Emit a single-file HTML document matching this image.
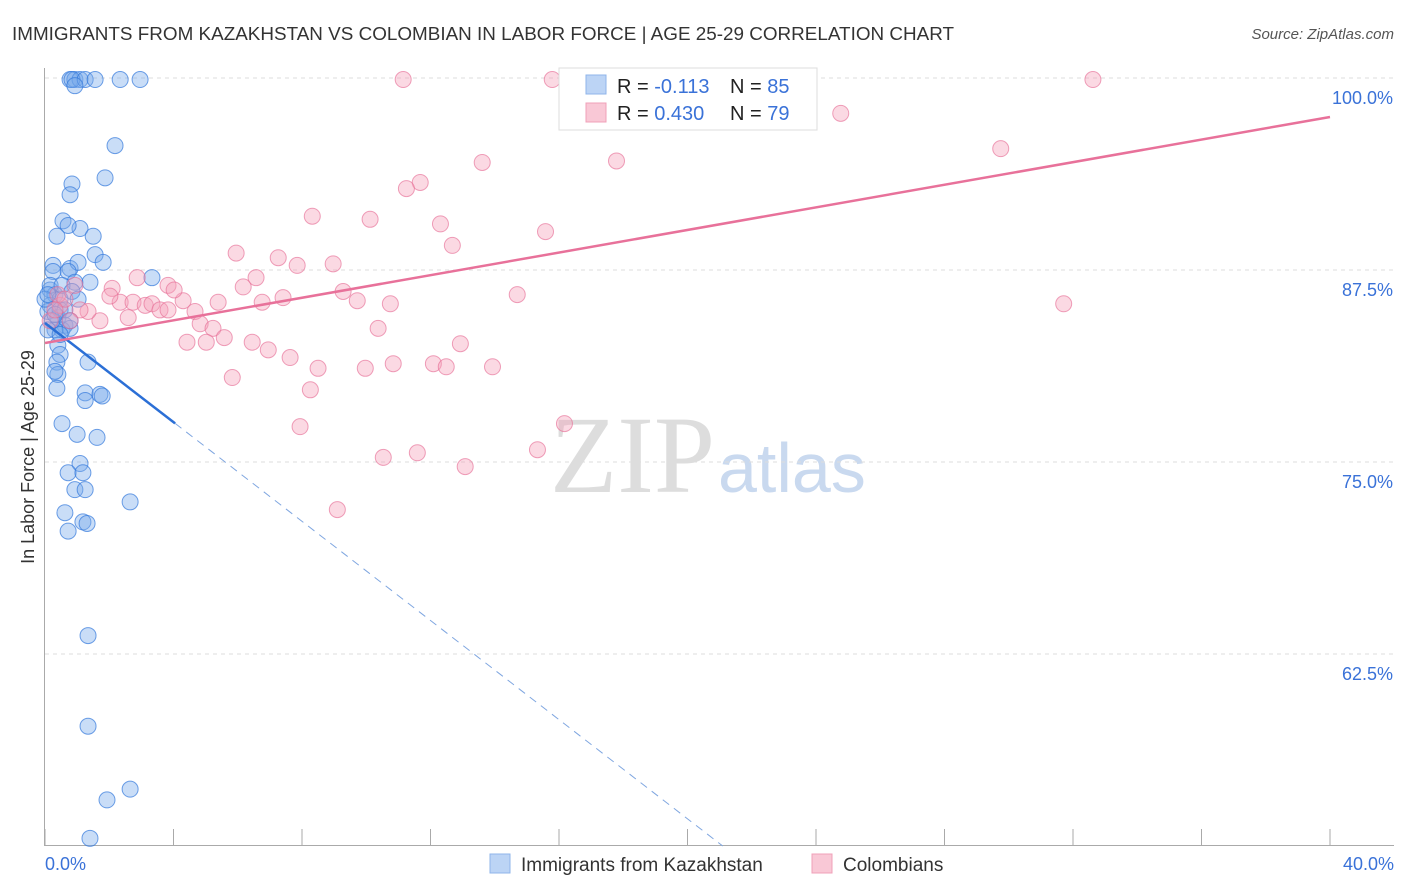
<!DOCTYPE html>
<html><head><meta charset="utf-8">
<style>
body{margin:0;background:#fff;font-family:"Liberation Sans",sans-serif;}
svg{display:block}
</style></head>
<body>
<svg id="chart" width="1406" height="892">
<text x="12" y="40" font-size="18" fill="#333" textLength="942" lengthAdjust="spacingAndGlyphs">IMMIGRANTS FROM KAZAKHSTAN VS COLOMBIAN IN LABOR FORCE | AGE 25-29 CORRELATION CHART</text>
<text x="1394" y="39" font-size="15" fill="#555" font-style="italic" text-anchor="end">Source: ZipAtlas.com</text>
<text x="715" y="492" font-size="110" fill="#ddd" text-anchor="end" font-family="Liberation Serif,serif">ZIP</text>
<text x="718" y="492" font-size="70" fill="#c9d9ef">atlas</text>
<g id="grid"></g>
<g id="axes"></g>
<g id="pts"></g>
<g id="trends"></g>
<text transform="translate(34,457) rotate(-90)" font-size="18" fill="#333" text-anchor="middle">In Labor Force | Age 25-29</text>
<g>
<rect x="559" y="68" width="258" height="62" fill="#fff" stroke="#ddd"/>
<rect x="586" y="75" width="20" height="19" fill="#bcd4f5" stroke="#8fb4ea"/>
<rect x="586" y="103" width="20" height="19" fill="#f9c8d6" stroke="#f0a0b8"/>
<text x="617" y="93" font-size="20" fill="#222">R = <tspan fill="#3a72d8">-0.113</tspan></text>
<text x="730" y="93" font-size="20" fill="#222">N = <tspan fill="#3a72d8">85</tspan></text>
<text x="617" y="120" font-size="20" fill="#222">R = <tspan fill="#3a72d8">0.430</tspan></text>
<text x="730" y="120" font-size="20" fill="#222">N = <tspan fill="#3a72d8">79</tspan></text>
</g>
<g>
<rect x="490" y="854" width="20" height="19" fill="#bcd4f5" stroke="#8fb4ea"/>
<text x="521" y="871" font-size="19" fill="#333">Immigrants from Kazakhstan</text>
<rect x="812" y="854" width="20" height="19" fill="#f9c8d6" stroke="#f0a0b8"/>
<text x="843" y="871" font-size="19" fill="#333">Colombians</text>
</g>
</svg>
<script>
const yTicks=[100,87.5,75,62.5];
const yTickLabels=["100.0%","87.5%","75.0%","62.5%"];
const xLabels=["0.0%","40.0%"];
const blueX=[0.78,0.93,1.09,0.84,1.25,1.56,2.34,2.96,0.93,2.18,1.87,0.84,0.78,0.56,1.09,0.72,0.37,1.50,1.56,0.25,0.78,1.81,1.03,0.72,3.33,1.40,0.93,0.25,0.16,0.31,0.47,0.16,0.09,0.40,0.62,0.53,0.78,0.31,0.40,0.47,1.34,0.37,0.40,0.31,0.37,1.25,1.71,1.78,1.25,0.53,1.00,1.62,1.09,0.72,1.18,0.93,1.25,2.65,0.62,1.18,1.31,0.72,1.34,1.34,1.93,2.65,1.40,0.16,0.47,0.22,0.0,0.09,0.62,0.78,0.31,0.53,0.84,1.03,0.09,0.47];
const blueY=[99.9,99.9,99.9,99.9,99.9,99.9,99.9,99.9,99.5,95.6,93.5,93.1,92.4,90.7,90.2,90.4,89.7,89.7,88.5,87.8,87.6,88.0,88.0,87.4,87.0,86.7,86.7,87.4,86.2,85.9,85.6,85.2,84.8,84.4,83.9,83.6,83.7,83.6,82.6,82.0,81.5,81.5,80.7,80.9,79.8,79.5,79.4,79.3,79.0,77.5,76.8,76.6,74.9,74.3,74.3,73.2,73.2,72.4,71.7,71.1,71.0,70.5,63.7,57.8,53.0,53.7,50.5,86.5,84.9,84.2,85.6,85.9,84.9,84.2,84.6,86.5,86.1,85.6,83.6,83.3];
const pinkX=[11.15,15.79,22.43,32.62,24.77,29.75,17.79,13.61,11.68,11.25,8.32,10.12,12.31,15.58,12.68,5.95,7.26,7.85,8.97,6.57,2.87,3.83,6.17,7.41,6.76,4.30,5.39,9.28,9.72,10.75,14.70,31.71,2.09,2.34,2.74,3.12,3.33,3.58,2.59,1.71,1.34,1.09,0.78,0.47,4.67,4.83,5.23,5.58,4.42,5.02,6.45,6.95,7.63,10.37,12.93,8.50,9.97,10.84,12.09,12.49,13.93,5.83,8.26,7.94,16.17,15.33,10.53,11.59,13.08,9.10,4.02,2.02,0.40,0.62,0.93,0.16,0.31,3.83];
const pinkY=[99.9,99.9,99.9,99.9,97.7,95.4,94.6,94.5,93.2,92.8,91.0,90.8,90.5,90.0,89.1,88.6,88.3,87.8,87.9,87.0,87.0,86.5,86.4,85.7,85.4,85.5,85.4,86.1,85.5,85.3,85.9,85.3,86.3,85.4,85.4,85.2,85.3,84.9,84.4,84.2,84.8,84.9,84.2,85.2,84.8,84.0,83.7,83.1,82.8,82.8,82.8,82.3,81.8,83.7,82.7,81.1,81.1,81.4,81.4,81.2,81.2,80.5,79.7,77.3,77.5,75.8,75.3,75.6,74.7,71.9,86.2,85.8,85.9,85.6,86.5,84.2,84.9,84.9];
const blueTrend=[84.05,-1.614];
const pinkTrend=[82.75,0.3678];
const NS="http://www.w3.org/2000/svg";
const X=v=>45+v/40*1285;
const Y=v=>78+(100-v)/50*768;
function mk(t,a,p){const e=document.createElementNS(NS,t);for(const k in a)e.setAttribute(k,a[k]);p.appendChild(e);return e;}
const grid=document.getElementById('grid'),axes=document.getElementById('axes'),pts=document.getElementById('pts'),tr=document.getElementById('trends');
yTicks.forEach((t,i)=>{
 const l=mk('line',{x1:45,x2:1394,y1:Y(t),y2:Y(t),stroke:'#ddd','stroke-dasharray':'4,4'},grid);
 
 
 const tx=mk('text',{x:1393,y:Y(t)+26,'font-size':18,fill:'#3a72d8','text-anchor':'end'},axes);
 tx.textContent=yTickLabels[i];
 
 
});
mk('line',{x1:44.5,x2:44.5,y1:68,y2:846,stroke:'#aaa'},axes);
mk('line',{x1:44,x2:1394,y1:845.5,y2:845.5,stroke:'#aaa'},axes);
for(let i=0;i<=10;i++){const x=X(i*4);mk('line',{x1:x,x2:x,y1:829,y2:846,stroke:'#aaa'},axes);}
[[0,'start',45],[1,'end',1394]].forEach(([i,a,x])=>{const t=mk('text',{x:x,y:870,'font-size':18,fill:'#3a72d8','text-anchor':a},axes);t.textContent=xLabels[i];
 
 });
blueX.forEach((v,i)=>{const c=mk('circle',{cx:X(v),cy:Y(blueY[i]),r:8,fill:'rgba(120,170,235,0.4)',stroke:'rgba(50,120,220,0.7)','stroke-width':1},pts);
 
 });
pinkX.forEach((v,i)=>{const c=mk('circle',{cx:X(v),cy:Y(pinkY[i]),r:8,fill:'rgba(245,160,185,0.4)',stroke:'rgba(230,110,150,0.65)','stroke-width':1},pts);
 
 });
const bEnd=(50-blueTrend[0])/blueTrend[1];
let l1=mk('line',{x1:X(0),y1:Y(blueTrend[0]),x2:X(4.05),y2:Y(blueTrend[0]+blueTrend[1]*4.05),stroke:'#2b6fd6','stroke-width':2.5},tr);


let l2=mk('line',{x1:X(4.05),y1:Y(blueTrend[0]+blueTrend[1]*4.05),x2:X(bEnd),y2:Y(50),stroke:'#7fa6e0','stroke-width':1,'stroke-dasharray':'8,6'},tr);


let l3=mk('line',{x1:X(0),y1:Y(pinkTrend[0]),x2:X(40),y2:Y(pinkTrend[0]+pinkTrend[1]*40),stroke:'#e8719a','stroke-width':2.5},tr);


</script>
</body></html>
